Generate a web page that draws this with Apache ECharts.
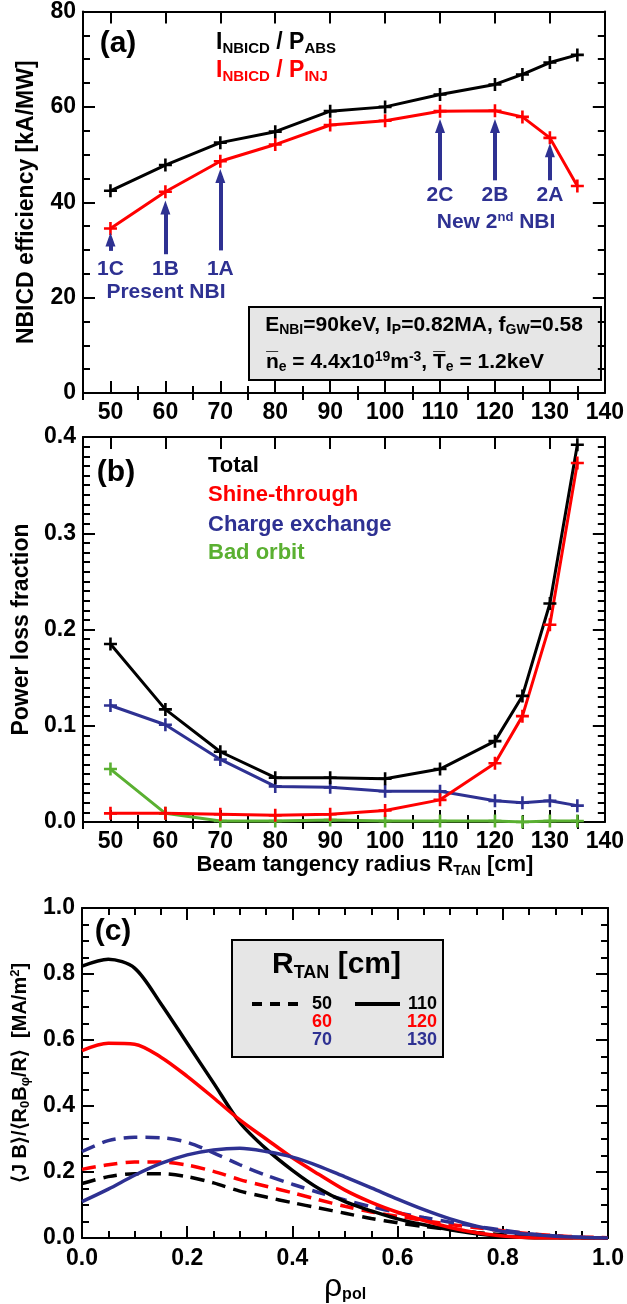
<!DOCTYPE html>
<html>
<head>
<meta charset="utf-8">
<script src="https://cdn.jsdelivr.net/npm/echarts@6/dist/echarts.min.js"></script>
<style>
html, body { margin: 0; padding: 0; background: #fff; }
#main { width: 627px; height: 1304px; }
</style>
</head>
<body>
<div id="main"></div>
<script>
// ---- Panel (a)/(b): beam tangency radius scan ----
const rTan = [50, 60, 70, 80, 90, 100, 110, 120, 125, 130, 135];
const effAbs = [42.4, 47.8, 52.5, 54.8, 59.1, 60.0, 62.6, 64.7, 66.8, 69.3, 70.9];
const effInj = [34.5, 42.2, 48.6, 52.1, 56.2, 57.1, 59.1, 59.2, 57.9, 53.5, 43.4];

const lossTotal = [0.185, 0.117, 0.073, 0.046, 0.046, 0.045, 0.055, 0.084, 0.131, 0.227, 0.392];
const lossShine = [0.009, 0.009, 0.008, 0.007, 0.008, 0.012, 0.023, 0.061, 0.110, 0.205, 0.373];
const lossCX    = [0.121, 0.101, 0.065, 0.037, 0.036, 0.032, 0.032, 0.022, 0.020, 0.022, 0.017];
const lossOrbit = [0.055, 0.009, 0.001, 0.001, 0.002, 0.001, 0.001, 0.001, 0.000, 0.001, 0.001];

// beam lines marked with arrows in panel (a)
const beamNames = ['1C', '1B', '1A', '2C', '2B', '2A'];
const beamR     = [50, 60, 70, 110, 120, 130];
const arrowFrom = [29.8, 29.1, 29.9, 44.6, 44.6, 44.6];
const arrowTo   = [32.2, 38.9, 45.5, 56.0, 56.0, 50.9];
const beamLabelY = [26.0, 26.0, 26.0, 41.5, 41.5, 41.5];
const groupNames = ['Present NBI', 'New 2nd NBI'];
const groupR = [60.1, 120.2];
const groupY = [21.1, 35.8];

// tick values for the radius axis
const rMajorTicks = [50, 60, 70, 80, 90, 100, 110, 120, 130, 140];
const rMinorTicks = [45, 55, 65, 75, 85, 95, 105, 115, 125, 135];

// ---- Panel (c): current density profiles ----
const rho  = [0, 0.05, 0.10, 0.15, 0.20, 0.25, 0.30, 0.35, 0.40, 0.45, 0.50,
              0.55, 0.60, 0.65, 0.70, 0.75, 0.80, 0.85, 0.90, 0.95, 1.00];
const j50  = [0.165, 0.186, 0.195, 0.195, 0.186, 0.167, 0.142, 0.124, 0.107, 0.091, 0.075,
              0.059, 0.046, 0.035, 0.026, 0.017, 0.010, 0.005, 0.002, 0.001, 0.000];
const j60  = [0.208, 0.222, 0.230, 0.230, 0.221, 0.202, 0.177, 0.157, 0.137, 0.116, 0.096,
              0.079, 0.066, 0.053, 0.041, 0.031, 0.022, 0.013, 0.007, 0.003, 0.001];
const j70  = [0.262, 0.295, 0.305, 0.304, 0.290, 0.258, 0.222, 0.190, 0.163, 0.138, 0.115,
              0.095, 0.077, 0.062, 0.048, 0.035, 0.024, 0.013, 0.006, 0.002, 0.000];
const j110 = [0.824, 0.845, 0.818, 0.710, 0.590, 0.470, 0.350, 0.270, 0.205, 0.150, 0.110,
              0.082, 0.058, 0.040, 0.025, 0.013, 0.005, 0.001, 0.000, 0.000, 0.000];
const j120 = [0.568, 0.590, 0.587, 0.548, 0.490, 0.425, 0.358, 0.300, 0.243, 0.193, 0.145,
              0.108, 0.078, 0.053, 0.032, 0.016, 0.006, 0.001, 0.000, 0.000, 0.000];
const j130 = [0.110, 0.148, 0.190, 0.226, 0.252, 0.267, 0.272, 0.262, 0.245, 0.218, 0.185,
              0.152, 0.118, 0.086, 0.058, 0.036, 0.020, 0.011, 0.005, 0.002, 0.000];

const FF = "'Liberation Sans', Arial, Helvetica, sans-serif";
const BLACK = '#000000', RED = '#ff0000', BLUE = '#2e3192', GREEN = '#5ab031';
const PLUS = 'path://M4,0H6V4H10V6H6V10H4V6H0V4H4Z';
const HEAD = 'path://M5,0L10,14H0Z';

const zip = (xs, ys) => xs.map((x, i) => [x, ys[i]]);

const tickFont = { color: BLACK, fontFamily: FF, fontWeight: 'bold', fontSize: 23 };
const axisLine = { show: true, onZero: false, lineStyle: { color: BLACK, width: 2 } };
const noLine = { show: false };

function radiusAxes(gridIndex, name) {
  const base = { type: 'value', gridIndex, min: 45, max: 140, splitLine: { show: false } };
  return [
    Object.assign({}, base, {
      position: 'bottom', axisLine,
      axisLabel: Object.assign({ customValues: rMajorTicks, margin: 8 }, tickFont),
      axisTick: { inside: true, customValues: rMajorTicks, length: 12, lineStyle: { width: 2, color: BLACK } },
      name: name || '', nameLocation: 'middle', nameGap: 30,
      nameTextStyle: {
        color: BLACK, fontFamily: FF, fontWeight: 'bold', fontSize: 22, padding: [0, 0, 0, 42],
        rich: { m: { fontFamily: FF, fontWeight: 'bold', fontSize: 22, color: BLACK },
                s: { fontFamily: FF, fontWeight: 'bold', fontSize: 14, color: BLACK, padding: [12, 0, 0, 0] } }
      }
    }),
    Object.assign({}, base, {
      position: 'bottom', axisLine: noLine, axisLabel: { show: false },
      axisTick: { inside: true, customValues: rMinorTicks, length: 7, lineStyle: { width: 2, color: BLACK } }
    }),
    Object.assign({}, base, {
      position: 'top', axisLine, axisLabel: { show: false, customValues: rMajorTicks },
      axisTick: { inside: true, customValues: rMajorTicks, length: 12, lineStyle: { width: 2, color: BLACK } }
    }),
    Object.assign({}, base, {
      position: 'top', axisLine: noLine, axisLabel: { show: false },
      axisTick: { inside: true, customValues: rMinorTicks, length: 7, lineStyle: { width: 2, color: BLACK } }
    })
  ];
}

function valueAxisPair(gridIndex, min, max, interval, minorSplit, digits, name, nameGap, nameStyle, pos) {
  const common = {
    type: 'value', gridIndex, min, max, interval,
    splitLine: { show: false },
    axisLine,
    axisTick: { inside: true, length: 12, lineStyle: { width: 2, color: BLACK } },
    minorTick: { show: true, splitNumber: minorSplit, length: 7, lineStyle: { width: 2, color: BLACK } }
  };
  const main = Object.assign({}, common, {
    position: pos[0],
    axisLabel: Object.assign({ margin: 7, formatter: v => v.toFixed(digits) }, tickFont),
    name, nameLocation: 'middle', nameGap, nameRotate: pos[0] === 'left' ? 90 : 0,
    nameTextStyle: nameStyle
  });
  const twin = Object.assign({}, common, { position: pos[1], axisLabel: { show: false } });
  return [main, twin];
}

const titleStyle = { color: BLACK, fontFamily: FF, fontWeight: 'bold', fontSize: 23 };

const xAxes = [].concat(
  radiusAxes(0, ''),
  radiusAxes(1, '{m|Beam tangency radius R}{s|TAN}{m| [cm]}'),
  valueAxisPair(2, 0, 1, 0.2, 4, 1, '{r|ρ}{s|pol}', 28, {
    rich: { r: { fontFamily: FF, fontSize: 32, color: BLACK },
            s: { fontFamily: FF, fontWeight: 'bold', fontSize: 16, color: BLACK, padding: [16, 0, 0, 0] } }
  }, ['bottom', 'top'])
);
xAxes[8].axisLabel.margin = 9;

const yAxes = [].concat(
  valueAxisPair(0, 0, 80, 20, 4, 0, 'NBICD efficiency [kA/MW]', 45, titleStyle, ['left', 'right']),
  valueAxisPair(1, 0, 0.4, 0.1, 10, 1, 'Power loss fraction', 48, titleStyle, ['left', 'right']),
  valueAxisPair(2, 0, 1, 0.2, 4, 1,
    '{m|⟨J B⟩/⟨R}{s|0}{m|B}{s|φ}{m|/R⟩  [MA/m}{p|2}{m|]}', 44, {
      rich: { m: { fontFamily: FF, fontWeight: 'bold', fontSize: 20, color: BLACK },
              s: { fontFamily: FF, fontWeight: 'bold', fontSize: 13, color: BLACK, padding: [10, 0, 0, 0] },
              p: { fontFamily: FF, fontWeight: 'bold', fontSize: 13, color: BLACK, padding: [0, 0, 10, 0] } }
    }, ['left', 'right'])
);

function markedLine(name, xs, ys, color, xi, yi) {
  return {
    name, type: 'line', xAxisIndex: xi, yAxisIndex: yi, data: zip(xs, ys),
    symbol: PLUS, symbolSize: 13, showSymbol: true,
    itemStyle: { color }, lineStyle: { color, width: 3 }, z: 3
  };
}

function profile(name, ys, color, dashed) {
  return {
    name, type: 'line', xAxisIndex: 8, yAxisIndex: 4, data: zip(rho, ys),
    showSymbol: false, smooth: 0.3,
    lineStyle: { color, width: 3.5, type: dashed ? [14, 8] : 'solid' }
  };
}

const blueText = { color: BLUE, fontFamily: FF, fontWeight: 'bold', fontSize: 21 };

const series = [
  markedLine('I/P_INJ', rTan, effInj, RED, 0, 0),
  markedLine('I/P_ABS', rTan, effAbs, BLACK, 0, 0),
  {
    name: 'beam arrows', type: 'line', xAxisIndex: 0, yAxisIndex: 0, data: [],
    markLine: {
      silent: true, animation: false,
      symbol: ['none', HEAD], symbolSize: [10, 14], symbolOffset: [0, 0],
      lineStyle: { color: BLUE, width: 4, type: 'solid', opacity: 1 },
      itemStyle: { color: BLUE },
      label: { show: false },
      emphasis: { disabled: true },
      data: beamR.map((r, i) => [{ coord: [r, arrowFrom[i]] }, { coord: [r, arrowTo[i]] }])
    }
  },
  {
    name: 'beams', type: 'scatter', xAxisIndex: 0, yAxisIndex: 0, symbolSize: 0,
    itemStyle: { opacity: 1 },
    data: beamNames.map((b, i) => ({ name: b, value: [beamR[i], beamLabelY[i]] })),
    label: Object.assign({ show: true, position: 'inside', formatter: '{b}' }, blueText)
  },
  {
    name: 'groups', type: 'scatter', xAxisIndex: 0, yAxisIndex: 0, symbolSize: 0,
    itemStyle: { opacity: 1 },
    data: groupNames.map((g, i) => ({ name: g, value: [groupR[i], groupY[i]] })),
    label: {
      show: true, position: 'inside',
      formatter: p => '{t|' + p.name.replace('2nd', '2}{u|nd}{t|') + '}',
      rich: { t: blueText,
              u: { color: BLUE, fontFamily: FF, fontWeight: 'bold', fontSize: 13, padding: [0, 0, 10, 0] } }
    }
  },
  markedLine('Bad orbit', rTan, lossOrbit, GREEN, 4, 2),
  markedLine('Charge exchange', rTan, lossCX, BLUE, 4, 2),
  markedLine('Shine-through', rTan, lossShine, RED, 4, 2),
  markedLine('Total', rTan, lossTotal, BLACK, 4, 2),
  profile('50', j50, BLACK, true),
  profile('60', j60, RED, true),
  profile('70', j70, BLUE, true),
  profile('110', j110, BLACK, false),
  profile('120', j120, RED, false),
  profile('130', j130, BLUE, false)
];

const bold = (size, color) => ({ fontFamily: FF, fontWeight: 'bold', fontSize: size, fill: color || BLACK });
const subRich = (main, sub, color, drop) => ({
  m: { fontFamily: FF, fontWeight: 'bold', fontSize: main, fill: color },
  s: { fontFamily: FF, fontWeight: 'bold', fontSize: sub, fill: color, padding: [drop, 0, 0, 0] },
  p: { fontFamily: FF, fontWeight: 'bold', fontSize: sub, fill: color, padding: [0, 0, drop, 0] }
});

const graphic = [
  // panel tags
  { type: 'text', x: 118, y: 44, style: Object.assign({ text: '(a)', align: 'center', verticalAlign: 'middle' }, bold(30)) },
  { type: 'text', x: 116, y: 473, style: Object.assign({ text: '(b)', align: 'center', verticalAlign: 'middle' }, bold(30)) },
  { type: 'text', x: 113, y: 932, style: Object.assign({ text: '(c)', align: 'center', verticalAlign: 'middle' }, bold(30)) },
  // panel (a) legend
  { type: 'text', x: 216, y: 43, style: { text: '{m|I}{s|NBICD}{m| / P}{s|ABS}', fill: BLACK, verticalAlign: 'middle', rich: subRich(23, 15, BLACK, 11) } },
  { type: 'text', x: 216, y: 71, style: { text: '{m|I}{s|NBICD}{m| / P}{s|INJ}', fill: RED, verticalAlign: 'middle', rich: subRich(23, 15, RED, 11) } },
  // panel (a) parameter box
  { type: 'rect', shape: { x: 249, y: 307, width: 352, height: 73 }, style: { fill: '#e6e6e6', stroke: BLACK, lineWidth: 2 } },
  { type: 'text', x: 424, y: 325, style: { text: '{m|E}{s|NBI}{m|=90keV, I}{s|P}{m|=0.82MA, f}{s|GW}{m|=0.58}', align: 'center', verticalAlign: 'middle', rich: subRich(21, 14, BLACK, 10) } },
  { type: 'text', x: 405, y: 362, style: { text: '{m|n\u0305}{s|e}{m| = 4.4x10}{p|19}{m|m}{p|-3}{m|, T\u0305}{s|e}{m| = 1.2keV}', align: 'center', verticalAlign: 'middle', rich: subRich(21, 14, BLACK, 10) } },
  // panel (b) legend
  { type: 'text', x: 208, y: 466, style: Object.assign({ text: 'Total', verticalAlign: 'middle' }, bold(22, BLACK)) },
  { type: 'text', x: 208, y: 495, style: Object.assign({ text: 'Shine-through', verticalAlign: 'middle' }, bold(22, RED)) },
  { type: 'text', x: 208, y: 525, style: Object.assign({ text: 'Charge exchange', verticalAlign: 'middle' }, bold(22, BLUE)) },
  { type: 'text', x: 208, y: 553, style: Object.assign({ text: 'Bad orbit', verticalAlign: 'middle' }, bold(22, GREEN)) },
  // panel (c) legend box
  { type: 'rect', shape: { x: 232, y: 940, width: 211, height: 117 }, style: { fill: '#e6e6e6', stroke: BLACK, lineWidth: 2 } },
  { type: 'text', x: 272, y: 965, style: { text: '{m|R}{s|TAN}{m| [cm]}', verticalAlign: 'middle', rich: subRich(30, 18, BLACK, 16) } },
  { type: 'line', shape: { x1: 252, y1: 1004, x2: 300, y2: 1004 }, style: { stroke: BLACK, lineWidth: 4, lineDash: [10, 8] } },
  { type: 'line', shape: { x1: 355, y1: 1004, x2: 400, y2: 1004 }, style: { stroke: BLACK, lineWidth: 4 } },
  { type: 'text', x: 332, y: 1004, style: Object.assign({ text: '50', align: 'right', verticalAlign: 'middle' }, bold(18, BLACK)) },
  { type: 'text', x: 332, y: 1022, style: Object.assign({ text: '60', align: 'right', verticalAlign: 'middle' }, bold(18, RED)) },
  { type: 'text', x: 332, y: 1040, style: Object.assign({ text: '70', align: 'right', verticalAlign: 'middle' }, bold(18, BLUE)) },
  { type: 'text', x: 437, y: 1004, style: Object.assign({ text: '110', align: 'right', verticalAlign: 'middle' }, bold(18, BLACK)) },
  { type: 'text', x: 437, y: 1022, style: Object.assign({ text: '120', align: 'right', verticalAlign: 'middle' }, bold(18, RED)) },
  { type: 'text', x: 437, y: 1040, style: Object.assign({ text: '130', align: 'right', verticalAlign: 'middle' }, bold(18, BLUE)) }
];

const chart = echarts.init(document.getElementById('main'), null, { renderer: 'canvas' });
chart.setOption({
  animation: false,
  backgroundColor: '#ffffff',
  grid: [
    { left: 83, top: 6, width: 527, height: 387 },
    { left: 83, top: 437, width: 527, height: 385 },
    { left: 82, top: 908, width: 528, height: 330 }
  ],
  xAxis: xAxes,
  yAxis: yAxes,
  series,
  graphic
});
</script>
</body>
</html>
